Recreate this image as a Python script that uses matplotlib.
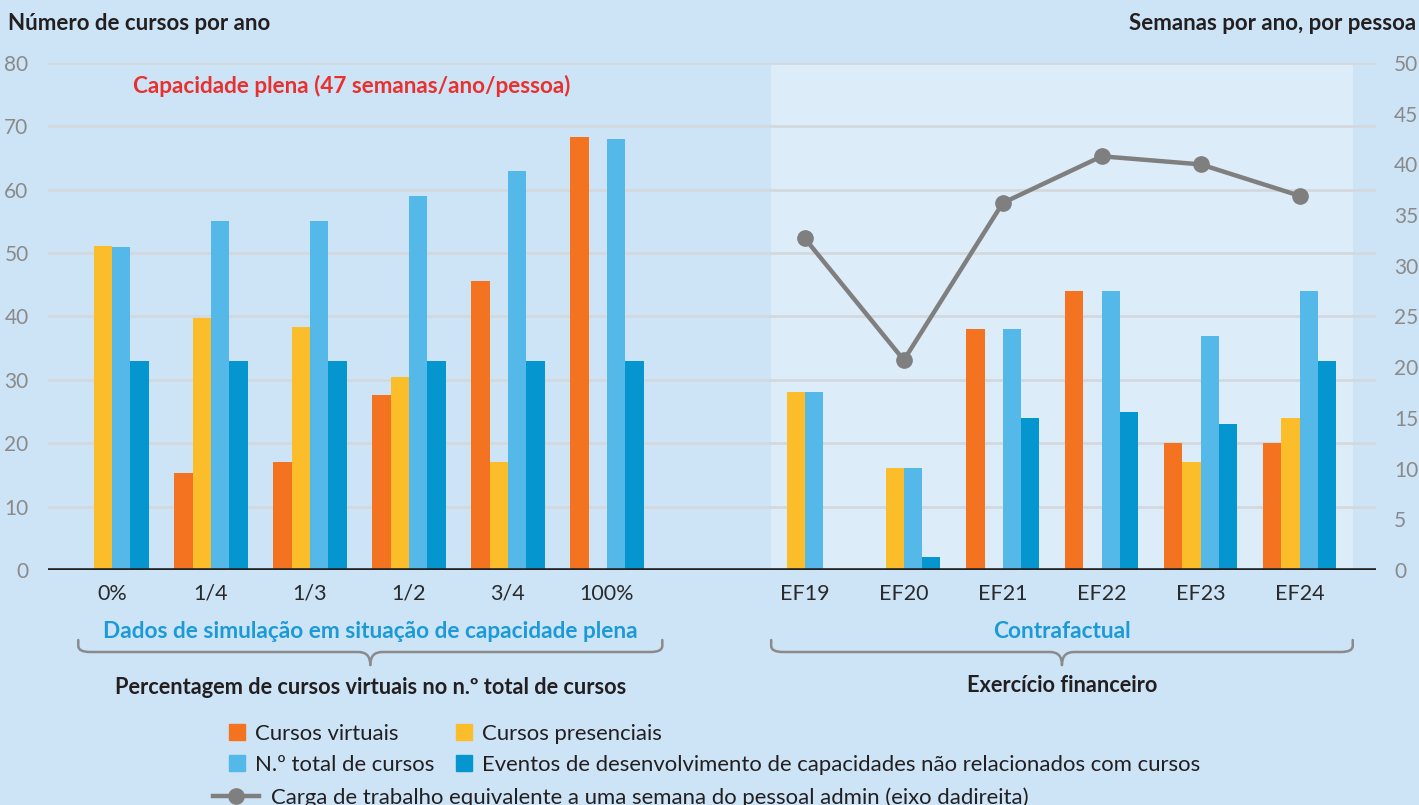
import matplotlib
matplotlib.use("Agg")
import matplotlib.pyplot as plt
from matplotlib.path import Path
from matplotlib.patches import PathPatch, Patch
from matplotlib.lines import Line2D
import matplotlib.transforms as mtransforms

plt.rcParams['font.family'] = ['Lato', 'DejaVu Sans']

# ---------------- data ----------------
sim_labels = ["0%", "1/4", "1/3", "1/2", "3/4", "100%"]
fy_labels = ["EF19", "EF20", "EF21", "EF22", "EF23", "EF24"]

sim_virtual = [0, 15.3, 17, 27.6, 45.6, 68.3]
sim_presencial = [51.1, 39.8, 38.4, 30.4, 17, 0]
sim_total = [51, 55, 55, 59, 63, 68]
sim_events = [33, 33, 33, 33, 33, 33]

fy_virtual = [0, 0, 38, 44, 20, 20]
fy_presencial = [28.1, 16.1, 0, 0, 17, 24]
fy_total = [28.1, 16.1, 38, 44, 36.9, 44]
fy_events = [0, 2, 24, 25, 23, 33]

fy_workload = [32.7, 20.7, 36.2, 40.8, 40.0, 36.9]

series_names = ["Cursos virtuais", "Cursos presenciais", "N.º total de cursos",
                "Eventos de desenvolvimento de capacidades não relacionados com cursos"]
line_name = "Carga de trabalho equivalente a uma semana do pessoal admin (eixo dadireita)"

# ---------------- style ----------------
C_VIRT = "#f47321"
C_PRES = "#fbbd29"
C_TOT = "#54b8e9"
C_EVT = "#0596cf"
C_LINE = "#7f7f7f"
BG = "#cde4f7"
PANEL = "#ddecf9"
GRID = "#d3d8dd"

W, H = 1419, 805
fig = plt.figure(figsize=(W / 100, H / 100), dpi=100, facecolor=BG)
ax = fig.add_axes([48 / W, 1 - 570 / H, 1328 / W, 507 / H])
ax.set_facecolor(BG)
for s in ax.spines.values():
    s.set_visible(False)

x_sim = list(range(6))
x_fy = [7 + i for i in range(6)]
xs = x_sim + x_fy
virt = sim_virtual + fy_virtual
pres = sim_presencial + fy_presencial
tot = sim_total + fy_total
evt = sim_events + fy_events

bw = 0.185
ax.axvspan(6.657, 12.535, color=PANEL, zorder=0, lw=0)
for j, (vals, col) in enumerate([(virt, C_VIRT), (pres, C_PRES), (tot, C_TOT), (evt, C_EVT)]):
    ax.bar([x + (j - 1.5) * bw for x in xs], vals, width=bw, color=col, zorder=3, lw=0)

ax.set_xlim(-0.646, 12.77)
ax.set_ylim(0, 80)
ax.set_yticks(range(0, 81, 10))
ax.yaxis.grid(True, color=GRID, lw=2, zorder=1)
ax.set_axisbelow(True)
ax.axhline(0, color="#222222", lw=2.6, zorder=4)
ax.tick_params(axis='y', length=0, pad=14, labelsize=15, labelcolor="#8a8a8a")
ax.set_xticks(xs)
ax.set_xticklabels(sim_labels + fy_labels)
ax.tick_params(axis='x', length=0, pad=10, labelsize=15.5, labelcolor="#2a2a2a")

ax2 = ax.twinx()
for s in ax2.spines.values():
    s.set_visible(False)
ax2.set_ylim(0, 50)
ax2.set_yticks(range(0, 51, 5))
ax2.tick_params(axis='y', length=0, pad=13, labelsize=15, labelcolor="#8a8a8a")
ax2.plot(x_fy, fy_workload, color=C_LINE, lw=3.2, marker='o', markersize=11, zorder=5)

# ---------------- texts ----------------
fig.text(8 / W, 1 - 23 / H, "Número de cursos por ano", ha='left', va='center',
         fontsize=16, fontweight='bold', color="#231f20")
fig.text(1416 / W, 1 - 23 / H, "Semanas por ano, por pessoa", ha='right', va='center',
         fontsize=16, fontweight='bold', color="#231f20")
ax.text(0.21, 76.4, "Capacidade plena (47 semanas/ano/pessoa)", ha='left', va='center',
        fontsize=16.2, fontweight='bold', color="#e8312f")

# braces
trans = mtransforms.blended_transform_factory(ax.transData, fig.transFigure)


def brace(x0, x1):
    xm = (x0 + x1) / 2
    r = 0.12
    yt = 1 - 640 / H
    yh = 1 - 652 / H
    yc = 1 - 646 / H
    yn = 1 - 665 / H
    p1 = Path([(x0, yt), (x0, yc), (x0, yh), (x0 + r, yh), (xm - r, yh), (xm, yh), (xm, yn)],
              [Path.MOVETO, Path.LINETO, Path.CURVE3, Path.CURVE3, Path.LINETO,
               Path.CURVE3, Path.CURVE3])
    p2 = Path([(xm, yn), (xm, yh), (xm + r, yh), (x1 - r, yh), (x1, yh), (x1, yc), (x1, yt)],
              [Path.MOVETO, Path.CURVE3, Path.CURVE3, Path.LINETO, Path.CURVE3,
               Path.CURVE3, Path.LINETO])
    for pp in (p1, p2):
        patch = PathPatch(pp, transform=trans, fill=False, edgecolor="#8a8a8a", lw=1.8,
                          clip_on=False, capstyle='round', joinstyle='round')
        fig.add_artist(patch)
    return xm


lm = brace(-0.34, 5.56)
rm = brace(6.66, 12.535)
ax.text(lm, 1 - 632 / H, "Dados de simulação em situação de capacidade plena", transform=trans,
        ha='center', va='center', fontsize=16.3, fontweight='bold', color="#1b9ad6")
ax.text(rm, 1 - 632 / H, "Contrafactual", transform=trans,
        ha='center', va='center', fontsize=16.3, fontweight='bold', color="#1b9ad6")
ax.text(lm, 1 - 687 / H, "Percentagem de cursos virtuais no n.º total de cursos", transform=trans,
        ha='center', va='center', fontsize=15.7, fontweight='bold', color="#231f20")
ax.text(rm, 1 - 685 / H, "Exercício financeiro", transform=trans,
        ha='center', va='center', fontsize=15.7, fontweight='bold', color="#231f20")

# ---------------- legends ----------------
handles = [Patch(color=C_VIRT), Patch(color=C_TOT), Patch(color=C_PRES), Patch(color=C_EVT)]
labels = [series_names[0], series_names[2], series_names[1], series_names[3]]
leg = fig.legend(handles, labels, loc='upper left', bbox_to_anchor=(229 / W, 1 - 724 / H),
                 ncol=2, frameon=False, fontsize=15.9, handlelength=0.72, handleheight=0.72,
                 handletextpad=0.45, labelspacing=0.5, columnspacing=1.0, borderpad=0,
                 borderaxespad=0)
for t in leg.get_texts():
    t.set_color("#231f20")
leg2 = fig.legend([Line2D([0], [0], color=C_LINE, lw=3.2, marker='o', markersize=11)],
                  [line_name], loc='upper left', bbox_to_anchor=(213 / W, 1 - 787 / H),
                  frameon=False, fontsize=15.9, handlelength=2.1, handletextpad=0.54,
                  borderpad=0, borderaxespad=0)
for t in leg2.get_texts():
    t.set_color("#231f20")

fig.savefig("out.png", dpi=100, facecolor=BG)
